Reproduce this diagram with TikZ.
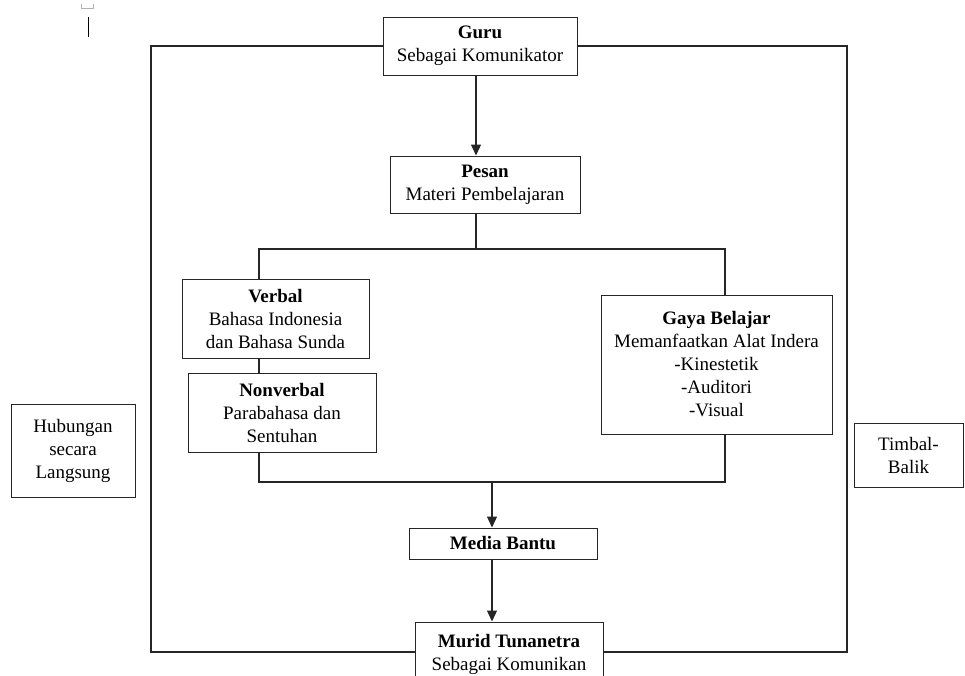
\documentclass[tikz,border=0pt]{standalone}
\usepackage{fontspec}
\setmainfont{Liberation Serif}
\usetikzlibrary{arrows.meta}

\tikzset{
  kotak/.style={draw=black!85, line width=1pt, align=center, inner sep=0pt,
    font=\fontsize{19}{23}\selectfont},
  garis/.style={draw=black!85, line width=1.1pt},
  panah/.style={garis, -{Triangle[length=11pt,width=10pt]}}
}

\begin{document}
\begin{tikzpicture}[x=1pt,y=-1pt]
\useasboundingbox (0,0) rectangle (965,675);
\clip (0,0) rectangle (965,675);

% bekas kursor
\draw[gray!60, line width=0.8pt] (81,4) -- (81,8) -- (93,8) -- (93,4);
\draw[line width=1pt] (88,17) -- (88,37);

% kotak utama
\node[kotak, minimum width=194pt, minimum height=58pt] (guru) at (480,46) {\textbf{Guru}\\Sebagai Komunikator};
\node[kotak, minimum width=190pt, minimum height=57pt] (pesan) at (485,184.5) {\textbf{Pesan}\\Materi Pembelajaran};
\node[kotak, minimum width=187pt, minimum height=79pt] (verbal) at (275.5,318.5) {\textbf{Verbal}\\Bahasa Indonesia\\dan Bahasa Sunda};
\node[kotak, minimum width=188pt, minimum height=79pt] (nonverbal) at (282,412.5) {\textbf{Nonverbal}\\Parabahasa dan\\Sentuhan};
\node[kotak, minimum width=231pt, minimum height=139pt] (gaya) at (716.5,364.5) {\textbf{Gaya Belajar}\\Memanfaatkan Alat Indera\\-Kinestetik\\-Auditori\\-Visual};
\node[kotak, minimum width=188pt, minimum height=31pt] (media) at (503,543.5) {\textbf{Media Bantu}};
\node[kotak, minimum width=188pt, minimum height=64pt] (murid) at (509,654) {\textbf{Murid Tunanetra}\\Sebagai Komunikan};

% keterangan samping
\node[kotak, minimum width=124pt, minimum height=93pt] (hubungan) at (73,450.5) {Hubungan\\secara\\Langsung};
\node[kotak, minimum width=109pt, minimum height=64pt] (timbal) at (908.5,455) {Timbal-\\Balik};

% titik bantu
\coordinate (turun) at (476,249);
\coordinate (cabangKiri) at (259,249);
\coordinate (cabangKanan) at (725,249);
\coordinate (gabungKiri) at (259,482);
\coordinate (gabungKanan) at (725,482);
\coordinate (gabung) at (492,482);
\coordinate (kiriAtas) at (151,46);
\coordinate (kiriBawah) at (151,652);
\coordinate (kananAtas) at (847,46);
\coordinate (kananBawah) at (847,652);

% bingkai
\draw[garis] (guru.west) -- (kiriAtas) -- (kiriBawah) -- (murid.west |- kiriBawah);
\draw[garis] (guru.east) -- (kananAtas) -- (kananBawah) -- (murid.east |- kananBawah);

% alur
\draw[panah] (guru.south -| turun) -- (pesan.north -| turun);
\draw[garis] (pesan.south -| turun) -- (turun);
\draw[garis] (verbal.north -| cabangKiri) -- (cabangKiri) -- (cabangKanan) -- (gaya.north -| cabangKanan);
\draw[garis] (verbal.south -| cabangKiri) -- (nonverbal.north -| cabangKiri);
\draw[garis] (nonverbal.south -| gabungKiri) -- (gabungKiri) -- (gabungKanan) -- (gaya.south -| gabungKanan);
\draw[panah] (gabung) -- (media.north -| gabung);
\draw[panah] (media.south -| gabung) -- (murid.north -| gabung);

\end{tikzpicture}
\end{document}
